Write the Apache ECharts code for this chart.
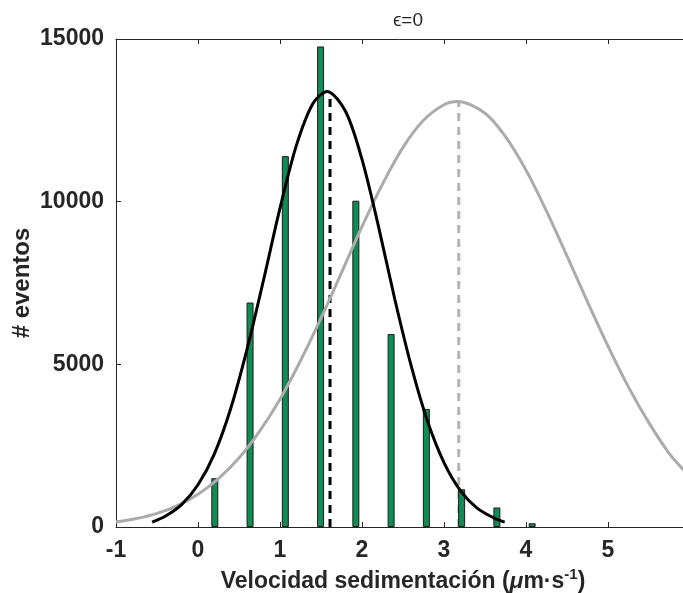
<!DOCTYPE html>
<html><head><meta charset="utf-8">
<script src="https://cdn.jsdelivr.net/npm/echarts@6/dist/echarts.min.js"></script>
<style>html,body{margin:0;padding:0;background:#fff}#c{width:683px;height:593px}</style>
</head><body><div id="c"></div>
<script>
// ---- data ----
const binCenters = [0.205, 0.635, 1.065, 1.495, 1.925, 2.355, 2.785, 3.215, 3.645, 4.075];
const binCounts  = [1500, 6900, 11400, 14770, 10030, 5930, 3630, 1160, 600, 115];

const fitBlackX = [-0.56,-0.4,-0.2,0,0.2,0.4,0.6,0.8,1.0,1.2,1.4,1.575,1.8,2.0,2.2,2.4,2.6,2.8,3.0,3.2,3.4,3.6,3.74];
const fitBlackY = [150,330,690,1300,2250,3650,5480,7600,9800,11730,13010,13390,12770,11300,9250,7000,4950,3240,1980,1120,590,290,150];

const fitGrayX = [-1,-0.75,-0.5,-0.25,0,0.25,0.5,0.75,1.0,1.25,1.5,1.75,2.0,2.25,2.5,2.75,3.0,3.17,3.5,3.75,4.0,4.25,4.5,4.75,5.0,5.25,5.5,5.75,6.0];
const fitGrayY = [155,260,420,660,1010,1490,2120,2940,3930,5110,6420,7820,9230,10540,11670,12500,12980,13080,12720,12000,10970,9710,8330,6920,5560,4300,3200,2250,1550];

const meanBlack = 1.61, peakBlack = 13300;
const meanGray = 3.18, peakGray = 13050;

const xTicks = ['-1','0','1','2','3','4','5'];
const yTicks = [0, 5000, 10000, 15000];
const titleText = 'ϵ=0';
const yName = '# eventos';

// ---- chart ----
const axisColor = '#262626';
const chart = echarts.init(document.getElementById('c'), null, {renderer: 'canvas'});
const zip = (a, b) => a.map((v, i) => [v, b[i]]);
const font = 'Liberation Sans, Arial, Helvetica, sans-serif';

chart.setOption({
  animation: false,
  backgroundColor: '#fff',
  title: {
    text: titleText, left: 403, top: 6, textAlign: 'center',
    textStyle: {fontFamily: font, fontSize: 19, fontWeight: 'normal', color: axisColor}
  },
  grid: {left: 116, width: 574, top: 39, height: 488, containLabel: false, outerBoundsMode: 'none'},
  xAxis: [{
    type: 'value', min: -1, max: 6, interval: 1, position: 'bottom',
    axisLine: {show: true, onZero: false, lineStyle: {color: axisColor, width: 1}},
    axisTick: {show: true, inside: true, length: 5, lineStyle: {color: axisColor}},
    splitLine: {show: false},
    axisLabel: {
      margin: 12, color: axisColor, fontFamily: font, fontSize: 23, fontWeight: 'bold',
      formatter: v => { const s = String(v); return xTicks.indexOf(s) >= 0 ? s : ''; }
    },
    name: '{n|Velocidad sedimentación (}{mu|μ}{n|m·s}{sup|-1}{n|)}',
    nameLocation: 'middle', nameGap: 38,
    nameTextStyle: {
      rich: {
        n: {fontFamily: font, fontSize: 23, fontWeight: 'bold', color: axisColor, lineHeight: 30},
        mu: {fontFamily: font, fontSize: 23, fontWeight: 'bold', fontStyle: 'italic', color: axisColor, lineHeight: 30},
        sup: {fontFamily: font, fontSize: 15, fontWeight: 'bold', color: axisColor, verticalAlign: 'top', lineHeight: 30, padding: [0,0,10,0]}
      }
    }
  }, {
    type: 'value', min: -1, max: 6, interval: 1, position: 'top',
    axisLine: {show: true, onZero: false, lineStyle: {color: axisColor, width: 1}},
    axisTick: {show: true, inside: true, length: 5, lineStyle: {color: axisColor}},
    axisLabel: {show: false}, splitLine: {show: false}
  }],
  yAxis: {
    type: 'value', min: 0, max: 15000, interval: 5000,
    axisLine: {show: true, onZero: false, lineStyle: {color: axisColor, width: 1}},
    axisTick: {show: true, inside: true, length: 5, lineStyle: {color: axisColor}},
    splitLine: {show: false},
    axisLabel: {
      margin: 12, color: axisColor, fontFamily: font, fontSize: 23, fontWeight: 'bold',
      formatter: v => (yTicks.indexOf(v) >= 0 ? String(v) : '')
    },
    name: yName, nameLocation: 'middle', nameGap: 82, nameRotate: 90, nameMoveOverlap: false,
    nameTextStyle: {fontFamily: font, fontSize: 24, fontWeight: 'bold', color: axisColor}
  },
  series: [
    {
      type: 'line', name: 'meanGray', data: [[meanGray, 0], [meanGray, peakGray]],
      symbol: 'none', silent: true, z: 1,
      lineStyle: {color: '#b3b3b3', width: 3, type: [8, 6]}
    },
    {
      type: 'bar', name: 'hist', data: zip(binCenters, binCounts), barWidth: 7, z: 2,
      itemStyle: {color: '#128a54', borderColor: '#1c1c1c', borderWidth: 1}
    },
    {
      type: 'line', name: 'meanBlack', data: [[meanBlack, 0], [meanBlack, peakBlack]],
      symbol: 'none', silent: true, z: 3,
      lineStyle: {color: '#000', width: 3, type: [8, 6]}
    },
    {
      type: 'line', name: 'gray', data: zip(fitGrayX, fitGrayY), smooth: 0.3,
      symbol: 'none', z: 4, clip: true,
      lineStyle: {color: '#ababab', width: 3}
    },
    {
      type: 'line', name: 'black', data: zip(fitBlackX, fitBlackY), smooth: 0.3,
      symbol: 'none', z: 5,
      lineStyle: {color: '#000', width: 3}
    }
  ]
});
</script></body></html>
